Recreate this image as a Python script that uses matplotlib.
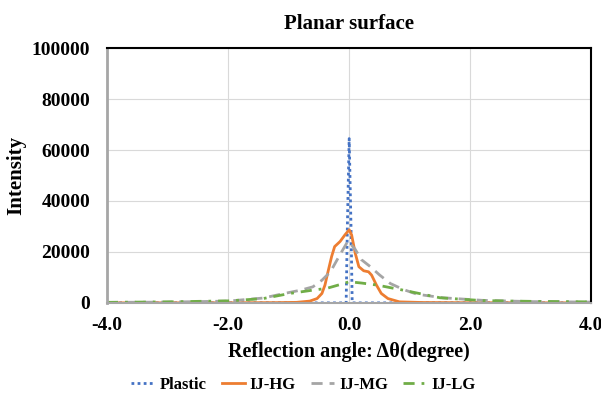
import numpy as np
import matplotlib.pyplot as plt

# reflection angle (degree) and intensities
plastic_x = [-4.0, -0.05, -0.03, 0.0, 0.03, 0.05, 4.0]
plastic_y = [0, 0, 30000, 64500, 30000, 0, 0]

hg_x = [-4.0, -2.0, -1.2, -0.87, -0.65, -0.53, -0.45, -0.40, -0.35, -0.29, -0.24, -0.15, -0.07, 0.0,
        0.04, 0.1, 0.16, 0.24, 0.32, 0.37, 0.45, 0.53, 0.64, 0.83, 1.2, 2.0, 4.0]
hg_y = [0, 30, 100, 200, 700, 1700, 3700, 7000, 12200, 18200, 22100, 24100, 26700, 28700,
        26700, 19500, 14200, 12600, 12200, 10900, 7000, 3700, 1700, 400, 150, 50, 0]

mg_x = [-4.0, -3.0, -2.0, -1.42, -1.09, -0.8, -0.6, -0.45, -0.31, -0.15, -0.02, 0.1, 0.2, 0.35, 0.5,
        0.68, 0.9, 1.12, 1.55, 2.2, 3.0, 4.0]
mg_y = [200, 300, 700, 1900, 3600, 5000, 6300, 8900, 12200, 19000, 24300, 21000, 17000, 14200, 11000,
        7600, 5200, 3400, 2000, 1000, 500, 300]

lg_x = [-4.0, -3.0, -1.97, -1.42, -0.98, -0.6, -0.37, -0.15, 0.0, 0.2, 0.46, 0.89, 1.5, 2.2, 3.0, 4.0]
lg_y = [200, 400, 800, 1700, 3700, 5000, 5700, 7200, 8300, 7800, 7000, 5000, 2000, 900, 600, 400]

xticks = [-4.0, -2.0, 0.0, 2.0, 4.0]
yticks = [0, 20000, 40000, 60000, 80000, 100000]

plt.rcParams['font.family'] = ['Liberation Serif', 'DejaVu Serif']
plt.rcParams['font.weight'] = 'bold'

fig = plt.figure(figsize=(6.01, 3.98), dpi=100)
ax = fig.add_axes([0.178, 0.239, 0.806, 0.640])

ax.plot(plastic_x, plastic_y, color='#4472C4', linestyle=(0, (1, 1.2)), linewidth=2.0, label='Plastic')
ax.plot(hg_x, hg_y, color='#ED7D31', linestyle='-', linewidth=2.0, label='IJ-HG')
ax.plot(mg_x, mg_y, color='#A5A5A5', linestyle=(0, (4, 2.5)), linewidth=2.0, label='IJ-MG')
ax.plot(lg_x, lg_y, color='#70AD47', linestyle=(0, (4, 2.5, 1, 2.5)), linewidth=2.0, label='IJ-LG')

ax.set_xlim(-4.0, 4.0)
ax.set_ylim(0, 100000)
ax.set_xticks(xticks)
ax.set_xticklabels([f"{t:.1f}" for t in xticks])
ax.set_yticks(yticks)
ax.set_yticklabels([str(t) for t in yticks])
ax.tick_params(length=0, labelsize=14)
ax.tick_params(axis='y', pad=12)
ax.tick_params(axis='x', pad=10)
for lbl in ax.get_xticklabels() + ax.get_yticklabels():
    lbl.set_fontweight('bold')

ax.grid(True, color='#D9D9D9', linewidth=0.8)
ax.set_axisbelow(True)
ax.spines['top'].set_color('black')
ax.spines['right'].set_color('black')
ax.spines['top'].set_linewidth(1.5)
ax.spines['right'].set_linewidth(1.5)
ax.spines['left'].set_color('#A6A6A6')
ax.spines['left'].set_linewidth(2.0)
ax.spines['bottom'].set_color('#A6A6A6')
ax.spines['bottom'].set_linewidth(1.5)

ax.set_title('Planar surface', fontsize=15, fontweight='bold', pad=14)
ax.set_xlabel('Reflection angle: Δθ(degree)', fontsize=14.5, fontweight='bold', labelpad=6)
ax.set_ylabel('Intensity', fontsize=15, fontweight='bold', labelpad=4)

fig.legend(loc='lower center', bbox_to_anchor=(0.505, -0.025), ncol=4, frameon=False,
           prop={'size': 12, 'weight': 'bold'}, handlelength=1.4, columnspacing=0.9,
           handletextpad=0.3)

fig.savefig('out.png', dpi=100)
